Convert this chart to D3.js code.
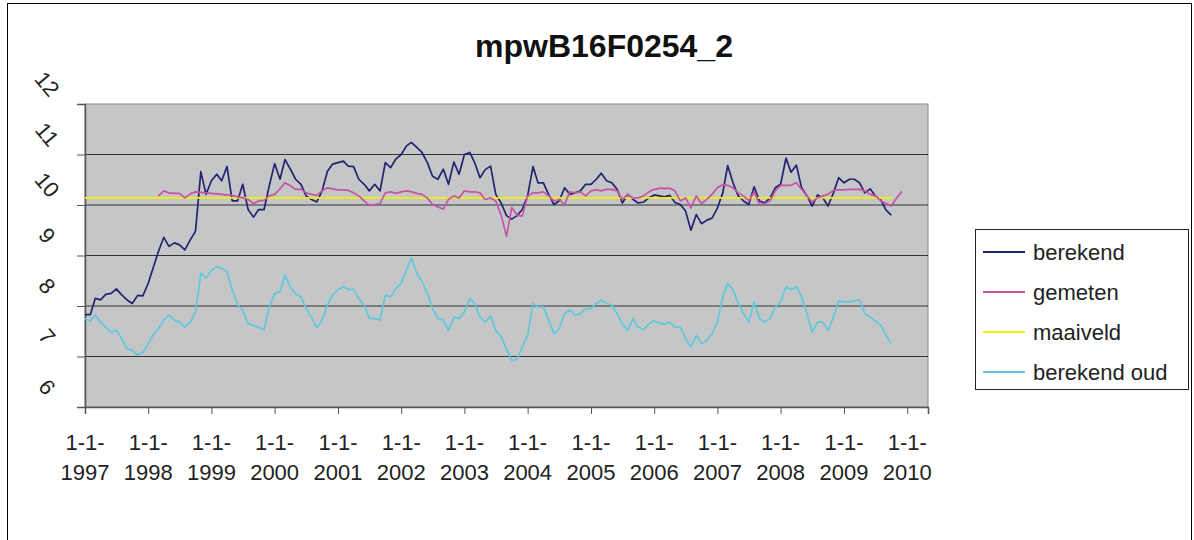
<!DOCTYPE html>
<html>
<head>
<meta charset="utf-8">
<script src="https://cdn.jsdelivr.net/npm/d3@7.9.0/dist/d3.min.js"></script>
<style>
  body { margin: 0; background: #fff; }
  svg { display: block; font-family: "Liberation Sans", Arial, sans-serif; }
</style>
</head>
<body>
<svg width="1194" height="540"></svg>
<script>
// monthly values, first point is 1-1-1997
const berekend = [
  7.83, 7.83, 8.15, 8.12, 8.23, 8.25, 8.34, 8.22, 8.12, 8.05, 8.21, 8.2,
  8.45, 8.78, 9.08, 9.36, 9.18, 9.25, 9.21, 9.11, 9.31, 9.48, 10.66, 10.21,
  10.48, 10.61, 10.48, 10.76, 10.08, 10.08, 10.41, 9.91, 9.76, 9.91, 9.91, 10.38,
  10.82, 10.51, 10.9, 10.71, 10.51, 10.41, 10.18, 10.11, 10.06, 10.28, 10.67, 10.81,
  10.84, 10.87, 10.77, 10.76, 10.51, 10.41, 10.28, 10.41, 10.28, 10.84, 10.74, 10.91,
  11.0, 11.17, 11.24, 11.14, 11.04, 10.84, 10.57, 10.51, 10.71, 10.41, 10.85, 10.61,
  11.0, 11.04, 10.84, 10.54, 10.7, 10.77, 10.21, 10.04, 9.79, 9.72, 9.79, 9.91,
  10.18, 10.76, 10.44, 10.44, 10.21, 10.01, 10.08, 10.34, 10.21, 10.24, 10.28, 10.41,
  10.41, 10.51, 10.63, 10.48, 10.44, 10.31, 10.04, 10.21, 10.11, 10.04, 10.06, 10.14,
  10.2, 10.18, 10.16, 10.19, 10.05, 10.01, 9.88, 9.5, 9.81, 9.63, 9.7, 9.74,
  9.94, 10.24, 10.78, 10.44, 10.18, 10.08, 10.01, 10.36, 10.08, 10.04, 10.14, 10.34,
  10.41, 10.93, 10.65, 10.79, 10.34, 10.18, 9.98, 10.2, 10.14, 9.98, 10.24, 10.54,
  10.44, 10.51, 10.51, 10.44, 10.24, 10.32, 10.18, 10.1, 9.9, 9.8
];

const berekendOud = [
  7.75, 7.7, 7.82, 7.68, 7.58, 7.48, 7.52, 7.35, 7.15, 7.12, 7.03, 7.08,
  7.25, 7.44, 7.55, 7.72, 7.82, 7.72, 7.68, 7.58, 7.68, 7.88, 8.65, 8.55,
  8.71, 8.78, 8.75, 8.68, 8.32, 8.02, 7.92, 7.65, 7.62, 7.58, 7.53, 7.98,
  8.25, 8.28, 8.61, 8.38, 8.24, 8.18, 7.95, 7.78, 7.57, 7.72, 8.02, 8.22,
  8.32, 8.38, 8.33, 8.33, 8.15, 8.02, 7.76, 7.75, 7.72, 8.22, 8.18, 8.35,
  8.45, 8.71, 8.95, 8.65, 8.48, 8.25, 7.95, 7.75, 7.72, 7.52, 7.78, 7.75,
  7.88, 8.15, 8.05, 7.78, 7.68, 7.8, 7.52, 7.39, 7.15, 6.92, 6.95, 7.19,
  7.42, 8.05, 7.98, 7.98, 7.72, 7.45, 7.55, 7.85, 7.92, 7.82, 7.85, 7.95,
  7.95, 8.05, 8.12, 8.05, 8.02, 7.85, 7.65, 7.52, 7.75, 7.58, 7.53, 7.65,
  7.71, 7.66, 7.64, 7.68, 7.58, 7.58, 7.35, 7.19, 7.42, 7.25, 7.32, 7.45,
  7.68, 8.18, 8.45, 8.32, 8.05, 7.85, 7.68, 8.08, 7.75, 7.68, 7.75, 7.98,
  8.08, 8.38, 8.32, 8.38, 8.18, 7.85, 7.48, 7.68, 7.68, 7.52, 7.78, 8.1,
  8.08, 8.08, 8.1, 8.12, 7.85, 7.78, 7.7, 7.62, 7.42, 7.24
];

// gemeten starts in march 1998 (month index 14)
const gemetenStart = 14;
const gemeten = [
  10.18, 10.28, 10.24, 10.23, 10.23, 10.14, 10.22, 10.26, 10.25, 10.24,
  10.23, 10.22, 10.21, 10.2, 10.19, 10.16, 10.14, 10.11, 10.03, 10.08, 10.09, 10.18,
  10.21, 10.32, 10.44, 10.38, 10.31, 10.31, 10.24, 10.21, 10.19, 10.28, 10.34, 10.32,
  10.3, 10.3, 10.29, 10.24, 10.18, 10.08, 9.99, 10.01, 10.03, 10.24, 10.26, 10.23,
  10.26, 10.28, 10.26, 10.23, 10.21, 10.14, 10.01, 9.96, 9.92, 10.11, 10.18, 10.14,
  10.28, 10.26, 10.26, 10.24, 10.11, 10.14, 10.08, 9.8, 9.38, 9.95, 9.8, 9.78,
  10.18, 10.24, 10.24, 10.26, 10.18, 10.08, 10.11, 10.01, 10.26, 10.24, 10.26, 10.18,
  10.28, 10.3, 10.28, 10.31, 10.31, 10.28, 10.11, 10.21, 10.14, 10.14, 10.18, 10.26,
  10.31, 10.33, 10.33, 10.33, 10.28, 10.08, 10.14, 9.94, 10.18, 10.03, 10.11, 10.21,
  10.34, 10.4, 10.39, 10.34, 10.24, 10.18, 10.08, 10.26, 10.01, 10.03, 10.08, 10.28,
  10.39, 10.39, 10.39, 10.44, 10.31, 10.18, 10.06, 10.14, 10.18, 10.21, 10.29, 10.3,
  10.3, 10.31, 10.31, 10.31, 10.28, 10.21, 10.18, 10.08, 10.03, 9.98, 10.14, 10.27
];

const maaiveldDates = ['1997-01-01', '2009-10-10'];
const maaiveld = [10.14, 10.14];

const yTicks = [6, 7, 8, 9, 10, 11, 12];
const yearTicks = d3.range(1997, 2011);

const seriesNames = ['berekend', 'gemeten', 'maaiveld', 'berekend oud'];
const seriesColors = ['#23236f', '#c653a8', '#f2f200', '#60c8dc'];

const svg = d3.select('svg');
const start = new Date(1997, 0, 1);
const monthDate = (i) => d3.timeMonth.offset(start, i);

// plot area
const plotL = 85, plotR = 928, plotT = 104, plotB = 407;

const x = d3.scaleTime()
  .domain([new Date(1997, 0, 1), new Date(2010, 4, 1)])
  .range([plotL, plotR]);
const y = d3.scaleLinear().domain([6, 12]).range([plotB, plotT]);

// outer frame
svg.append('rect')
  .attr('x', 7.5).attr('y', 3.5)
  .attr('width', 1184).attr('height', 540)
  .attr('fill', 'none').attr('stroke', '#000');

svg.append('text')
  .attr('x', 604).attr('y', 57)
  .attr('text-anchor', 'middle')
  .attr('font-size', 32).attr('font-weight', 'bold')
  .attr('fill', '#111')
  .text('mpwB16F0254_2');

svg.append('rect')
  .attr('x', plotL).attr('y', plotT)
  .attr('width', plotR - plotL).attr('height', plotB - plotT)
  .attr('fill', '#c5c6c8')
  .attr('stroke', '#8a8a8a');

// gridlines
svg.append('g')
  .selectAll('line')
  .data(yTicks.filter((d) => d > 6 && d < 12))
  .join('line')
  .attr('x1', plotL).attr('x2', plotR)
  .attr('y1', (d) => y(d)).attr('y2', (d) => y(d))
  .attr('stroke', '#333').attr('stroke-width', 1);

// y axis
const yAxis = svg.append('g')
  .attr('transform', `translate(${plotL},0)`)
  .call(d3.axisLeft(y).tickValues(yTicks).tickSize(8).tickFormat(''));
yAxis.select('.domain').attr('stroke', '#555').attr('stroke-width', 1.5);
yAxis.selectAll('.tick line').attr('stroke', '#555');

svg.append('g')
  .selectAll('text')
  .data(yTicks)
  .join('text')
  .attr('transform', (d) => `translate(47,${y(d) - 20}) rotate(50)`)
  .attr('text-anchor', 'middle')
  .attr('dominant-baseline', 'central')
  .attr('font-size', 22)
  .attr('fill', '#222')
  .text((d) => d);

// x axis
const xAxis = svg.append('g')
  .attr('transform', `translate(0,${plotB})`)
  .call(d3.axisBottom(x)
    .tickValues(yearTicks.map((yr) => new Date(yr, 0, 1)))
    .tickSize(7).tickFormat(''));
xAxis.select('.domain').attr('stroke', '#555').attr('stroke-width', 1.5);
xAxis.selectAll('.tick line').attr('stroke', '#555');

const xLabels = svg.append('g')
  .selectAll('text')
  .data(yearTicks)
  .join('text')
  .attr('text-anchor', 'middle')
  .attr('font-size', 22)
  .attr('fill', '#222');
xLabels.append('tspan')
  .attr('x', (d) => x(new Date(d, 0, 1))).attr('y', 450)
  .text('1-1-');
xLabels.append('tspan')
  .attr('x', (d) => x(new Date(d, 0, 1))).attr('y', 480)
  .text((d) => d);

// lines
const line = d3.line()
  .x((d) => x(d.date))
  .y((d) => y(d.value));

const berekendData = berekend.map((v, i) => ({ date: monthDate(i), value: v }));
const oudData = berekendOud.map((v, i) => ({ date: monthDate(i), value: v }));
const gemetenData = gemeten.map((v, i) => ({ date: monthDate(gemetenStart + i), value: v }));
const maaiveldData = maaiveld.map((v, i) => ({ date: d3.timeParse('%Y-%m-%d')(maaiveldDates[i]), value: v }));

const plot = svg.append('g');
[[oudData, 3], [berekendData, 0], [maaiveldData, 2], [gemetenData, 1]].forEach(([data, idx]) => {
  plot.append('path')
    .datum(data)
    .attr('d', line)
    .attr('fill', 'none')
    .attr('stroke', seriesColors[idx])
    .attr('stroke-width', 1.7)
    .attr('stroke-linejoin', 'round');
});

// legend
const legend = svg.append('g');
legend.append('rect')
  .attr('x', 975.5).attr('y', 229.5)
  .attr('width', 213).attr('height', 160)
  .attr('fill', '#fff').attr('stroke', '#222');

seriesNames.forEach((name, i) => {
  const ly = 252 + i * 40;
  legend.append('line')
    .attr('x1', 983).attr('x2', 1025)
    .attr('y1', ly).attr('y2', ly)
    .attr('stroke', seriesColors[i]).attr('stroke-width', 2);
  legend.append('text')
    .attr('x', 1033).attr('y', ly)
    .attr('dominant-baseline', 'central')
    .attr('font-size', 22)
    .attr('fill', '#222')
    .text(name);
});
</script>
</body>
</html>
